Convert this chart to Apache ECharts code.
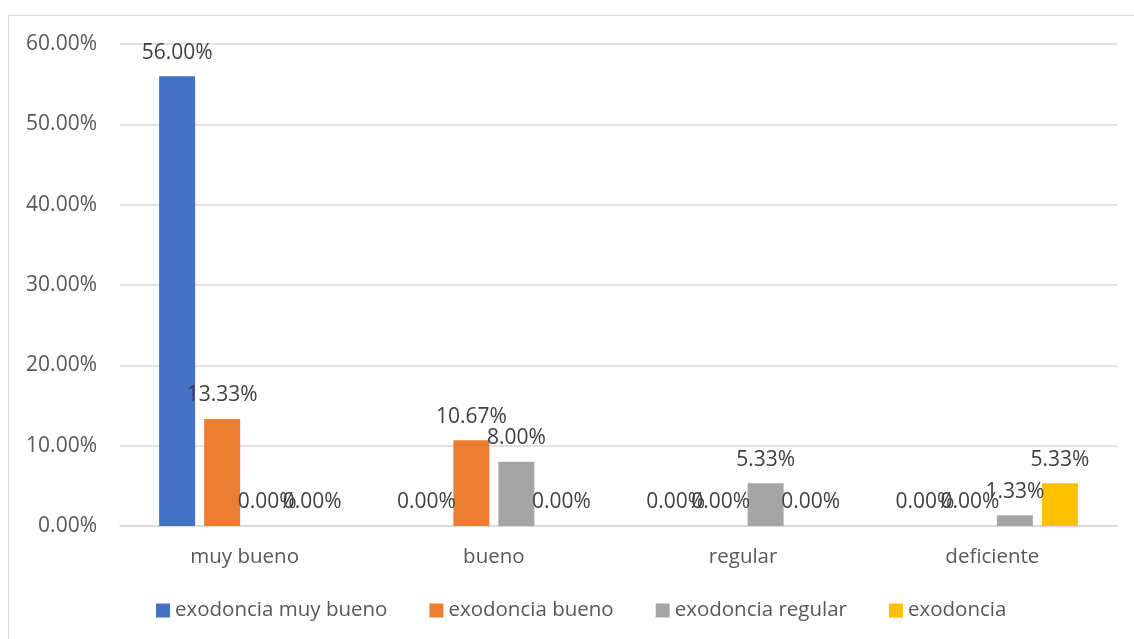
<!DOCTYPE html>
<html>
<head>
<meta charset="utf-8">
<script src="https://cdn.jsdelivr.net/npm/echarts@6/dist/echarts.min.js"></script>
<style>
  html, body { margin: 0; padding: 0; background: #fff; }
  #frame { position: absolute; left: 8px; top: 15px; width: 1140px; height: 640px; border: 1px solid #d9d9d9; box-sizing: border-box; }
  #chart { position: absolute; left: 0; top: 0; width: 1134px; height: 639px; }
</style>
</head>
<body>
<div id="frame"></div>
<div id="chart"></div>
<script>
// Categories on the x axis
const categories = ['muy bueno', 'bueno', 'regular', 'deficiente'];

// Percent values per series
const seriesNames = ['exodoncia muy bueno', 'exodoncia bueno', 'exodoncia regular', 'exodoncia'];
const muyBueno = [56.00, 0.00, 0.00, 0.00];
const bueno = [13.33, 10.67, 0.00, 0.00];
const regular = [0.00, 8.00, 5.33, 1.33];
const exodoncia = [0.00, 0.00, 0.00, 5.33];

// Y axis ticks
const yTicks = [0, 10, 20, 30, 40, 50, 60];

const colors = ['#4472C4', '#ED7D31', '#A5A5A5', '#FFC000'];
const font = '"Open Sans", "Noto Sans", sans-serif';

const chart = echarts.init(document.getElementById('chart'), null, { renderer: 'canvas' });

function makeSeries(name, data, color) {
  return {
    name: name,
    type: 'bar',
    data: data,
    barWidth: 36,
    barGap: '25%',
    itemStyle: { color: color },
    label: {
      show: true,
      position: 'top',
      distance: 13,
      color: '#404040',
      fontSize: 21,
      fontFamily: font,
      formatter: p => p.value.toFixed(2) + '%'
    }
  };
}

chart.setOption({
  animation: false,
  textStyle: { fontFamily: font },
  grid: { left: 120, right: 17, top: 44, bottom: 113, containLabel: false },
  legend: {
    bottom: 13,
    left: 151,
    itemWidth: 14,
    itemHeight: 14,
    itemGap: 42,
    icon: 'rect',
    textStyle: { color: '#595959', fontSize: 20.5, fontFamily: font },
    data: seriesNames
  },
  xAxis: {
    type: 'category',
    data: categories,
    axisTick: { show: false },
    axisLine: { lineStyle: { color: '#d9d9d9', width: 1.5 } },
    axisLabel: { color: '#595959', fontSize: 20.5, fontFamily: font, margin: 21 }
  },
  yAxis: {
    type: 'value',
    min: yTicks[0],
    max: yTicks[yTicks.length - 1],
    interval: yTicks[1] - yTicks[0],
    axisLine: { show: false },
    axisTick: { show: false },
    splitLine: { lineStyle: { color: '#d9d9d9', width: 1.5 } },
    axisLabel: {
      color: '#595959', fontSize: 21, fontFamily: font, margin: 23,
      formatter: v => v.toFixed(2) + '%'
    }
  },
  series: [
    makeSeries(seriesNames[0], muyBueno, colors[0]),
    makeSeries(seriesNames[1], bueno, colors[1]),
    makeSeries(seriesNames[2], regular, colors[2]),
    makeSeries(seriesNames[3], exodoncia, colors[3])
  ]
});
</script>
</body>
</html>
